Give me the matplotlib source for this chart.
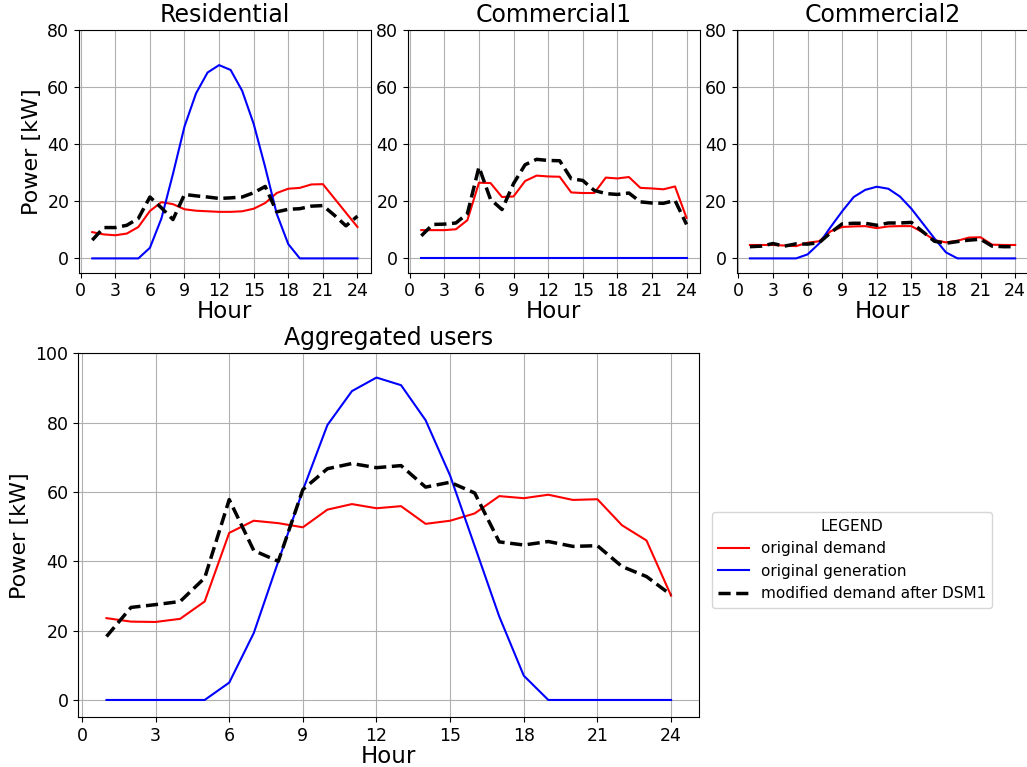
import numpy as np
import matplotlib
matplotlib.use("Agg")
import matplotlib.pyplot as plt

hours = list(range(1, 25))

# Residential
res_demand = [9.2, 8.4, 8.1, 8.7, 11.0, 16.6, 19.7, 19.0, 17.2, 16.7, 16.5, 16.3,
              16.3, 16.5, 17.4, 19.4, 22.9, 24.4, 24.7, 25.9, 26.0, 21.0, 16.0, 11.0]
res_gen = [0, 0, 0, 0, 0, 3.7, 14.0, 29.6, 46.2, 57.8, 65.1, 67.7,
           66.0, 58.7, 47.1, 31.9, 15.6, 5.0, 0, 0, 0, 0, 0, 0]
res_dsm = [6.4, 10.8, 10.8, 11.6, 14.0, 21.5, 17.7, 13.6, 22.4, 21.9, 21.5, 21.0,
           21.2, 21.5, 23.0, 25.2, 16.3, 17.2, 17.4, 18.3, 18.5, 15.1, 11.4, 14.8]

# Commercial1
com1_demand = [9.9, 9.9, 9.9, 10.2, 13.4, 26.5, 26.4, 21.5, 21.7, 27.1, 29.0, 28.7,
               28.6, 23.1, 22.9, 22.9, 28.3, 28.0, 28.5, 24.7, 24.5, 24.2, 25.2, 14.2]
com1_gen = [0] * 24
com1_dsm = [7.9, 11.9, 12.0, 12.4, 15.7, 32.0, 20.7, 17.1, 26.2, 32.8, 34.7, 34.3,
            34.2, 27.9, 27.3, 23.8, 22.7, 22.4, 22.9, 19.8, 19.4, 19.3, 20.3, 11.9]

# Commercial2
com2_demand = [4.7, 4.7, 4.7, 4.5, 4.3, 5.5, 6.0, 9.5, 11.0, 11.2, 11.3, 10.6,
               11.2, 11.3, 11.3, 9.1, 6.4, 5.6, 6.2, 7.3, 7.4, 4.8, 4.7, 4.7]
com2_gen = [0, 0, 0, 0, 0, 1.4, 5.2, 11.0, 16.5, 21.5, 24.0, 25.1,
            24.4, 21.7, 17.4, 12.2, 7.0, 2.1, 0, 0, 0, 0, 0, 0]
com2_dsm = [4.1, 4.3, 5.2, 4.3, 5.1, 5.0, 5.5, 9.0, 12.1, 12.3, 12.3, 11.6,
            12.4, 12.4, 12.6, 9.3, 6.0, 5.3, 5.9, 6.4, 6.7, 4.3, 4.1, 4.1]

# Aggregated users
agg_demand = [23.6, 22.6, 22.5, 23.4, 28.4, 48.2, 51.7, 51.0, 49.8, 54.9, 56.5, 55.3,
              55.9, 50.8, 51.7, 53.8, 58.8, 58.2, 59.2, 57.7, 57.9, 50.4, 46.0, 30.1]
agg_gen = [0, 0, 0, 0, 0, 5.0, 19.3, 40.0, 60.5, 79.3, 89.1, 93.0,
           90.8, 80.7, 64.7, 44.4, 24.1, 7.0, 0, 0, 0, 0, 0, 0]
agg_dsm = [18.3, 26.7, 27.5, 28.4, 35.2, 57.8, 43.1, 40.0, 60.7, 66.7, 68.2, 67.0,
           67.6, 61.4, 62.8, 59.7, 45.6, 44.7, 45.7, 44.3, 44.5, 38.5, 35.6, 30.3]

xticks = list(range(0, 25, 3))

fig = plt.figure(figsize=(10.27, 7.67), dpi=100)

top_rects = [
    [0.0769, 0.6445, 0.2841, 0.3164],
    [0.3973, 0.6445, 0.2841, 0.3164],
    [0.7173, 0.6445, 0.2841, 0.3164],
]
panels = [
    ("Residential", res_demand, res_gen, res_dsm),
    ("Commercial1", com1_demand, com1_gen, com1_dsm),
    ("Commercial2", com2_demand, com2_gen, com2_dsm),
]

def draw(ax, demand, gen, dsm):
    ax.plot(hours, demand, color="red", lw=1.5, label="original demand")
    ax.plot(hours, gen, color="blue", lw=1.5, label="original generation")
    ax.plot(hours, dsm, color="black", lw=2.5, ls=(0, (3.5, 1.6)),
            label="modified demand after DSM1")
    ax.set_xticks(xticks)
    ax.tick_params(labelsize=12.5)
    ax.grid(True)
    ax.set_xlabel("Hour", fontsize=16.5, labelpad=0)

for i, (rect, (name, d, g, m)) in enumerate(zip(top_rects, panels)):
    ax = fig.add_axes(rect)
    draw(ax, d, g, m)
    ax.set_ylim(-5, 80)
    ax.set_title(name, fontsize=17)
    if i == 0:
        ax.set_ylabel("Power [kW]", fontsize=16)

ax = fig.add_axes([0.0762, 0.0648, 0.6047, 0.4746])
draw(ax, agg_demand, agg_gen, agg_dsm)
ax.set_ylim(-5, 100)
ax.set_title("Aggregated users", fontsize=17)
ax.set_ylabel("Power [kW]", fontsize=16)

handles, labels = ax.get_legend_handles_labels()
fig.legend(handles, labels, title="LEGEND", fontsize=11, title_fontsize=11,
           loc="center", bbox_to_anchor=(0.8296, 0.2699))

fig.savefig("out.png", dpi=100)
